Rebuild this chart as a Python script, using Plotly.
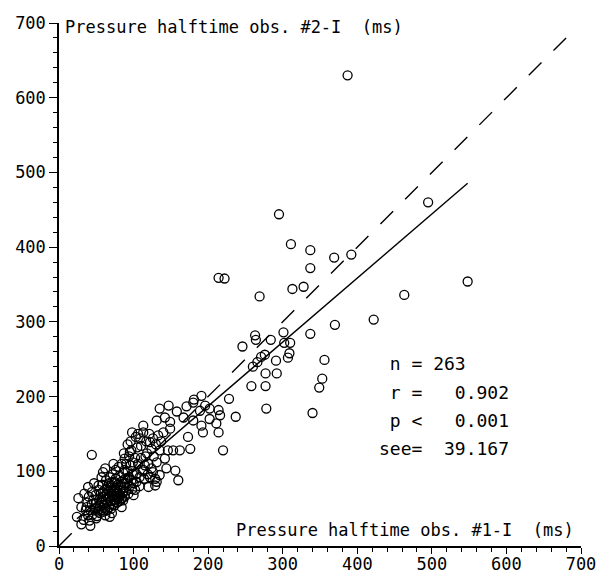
import plotly.graph_objects as go

# ---- data: observer #1 (x) vs observer #2 (y) pressure halftime, ms ----
outer_x = [387, 495, 548, 463, 422, 295, 311, 337, 369, 392, 337, 214, 222, 313, 328, 269,
           370, 337, 301, 263, 264, 284, 302, 310, 246, 309, 307, 276, 271, 266, 260, 291,
           277, 292, 356, 353, 349, 258, 277, 191, 228, 181, 340, 278, 237, 220,
           135, 147, 158, 171, 180, 196, 202, 214, 216, 189, 167, 180, 142, 131, 149, 191,
           211, 202, 113, 106, 173, 193, 214, 176, 162, 153, 156, 160, 59, 95, 26, 24,
           30, 42, 68, 120, 131, 100, 44, 144, 129, 135, 126, 133, 140, 149, 124, 135,
           146, 131, 142, 126, 129, 30, 33, 39, 50, 39, 44, 53, 57, 62, 73, 88,
           97, 109, 113, 122, 104, 102, 84, 86, 71, 62, 122, 124, 113]
outer_y = [630, 460, 354, 336, 303, 444, 404, 396, 386, 390, 372, 359, 358, 344, 347, 334,
           296, 284, 286, 282, 276, 276, 272, 272, 267, 258, 252, 256, 253, 246, 240, 248,
           231, 231, 249, 224, 212, 214, 214, 201, 197, 196, 178, 184, 173, 128,
           184, 188, 180, 187, 192, 188, 184, 182, 175, 181, 172, 168, 172, 168, 166, 161,
           164, 170, 161, 150, 146, 152, 152, 130, 128, 128, 101, 88, 99, 126, 64, 39,
           29, 27, 39, 79, 86, 68, 122, 104, 81, 95, 144, 148, 152, 157, 130, 128,
           128, 112, 117, 99, 90, 52, 35, 41, 37, 79, 72, 81, 92, 104, 110, 117,
           128, 144, 152, 139, 86, 75, 52, 61, 44, 41, 92, 104, 102]

core_x = [48, 50, 52, 54, 55, 56, 57, 58, 59, 60, 61, 62, 63, 64, 65, 66, 67, 68, 69, 70,
          71, 72, 73, 74, 75, 76, 77, 78, 79, 80, 81, 82, 83, 84, 85, 86, 87, 88, 89, 90,
          91, 92, 93, 94, 95, 96, 97, 98, 99, 100, 46, 49, 51, 53, 55, 58, 60, 63, 65, 68,
          70, 72, 74, 76, 78, 80, 82, 84, 86, 88, 66, 69, 71, 73, 75, 77, 79, 81, 83, 85,
          64, 67, 70, 74, 78, 62, 59, 56, 53, 50, 104, 106, 108, 110, 112, 115, 118, 102, 105, 99,
          94, 90, 87, 92, 96, 116, 120, 119, 114, 108, 42, 44, 38, 40, 36, 34, 47, 45, 41, 37,
          110, 117, 103, 98, 121, 127, 130, 137, 92, 88]
core_y = [50, 58, 46, 62, 53, 70, 48, 60, 66, 55, 75, 50, 62, 70, 58, 80, 52, 66, 74, 60,
          85, 56, 68, 78, 62, 90, 70, 58, 82, 66, 94, 74, 62, 86, 70, 98, 78, 66, 90, 74,
          84, 100, 70, 92, 80, 108, 88, 76, 96, 84, 62, 68, 40, 75, 44, 82, 46, 88, 48, 92,
          50, 96, 54, 102, 64, 106, 68, 110, 72, 102, 64, 56, 70, 62, 74, 66, 72, 60, 78, 64,
          76, 84, 78, 86, 76, 68, 72, 58, 54, 50, 96, 110, 92, 118, 100, 108, 124, 118, 132, 112,
          120, 110, 124, 136, 140, 120, 110, 96, 90, 80, 48, 56, 58, 66, 48, 70, 84, 42, 34, 52,
          134, 140, 146, 152, 150, 120, 136, 140, 90, 84]

reg_intercept = 15.8
reg_slope = 0.857
identity_end = 680

stats_lines = ["\u00a0n\u00a0=\u00a0263",
               "\u00a0r\u00a0=\u00a0\u00a0\u00a00.902",
               "\u00a0p\u00a0<\u00a0\u00a0\u00a00.001",
               "see=\u00a0\u00a039.167"]
x_title = "Pressure halftime obs. #1-I\u00a0\u00a0(ms)"
y_title = "Pressure halftime obs. #2-I\u00a0\u00a0(ms)"
tick_vals = [0, 100, 200, 300, 400, 500, 600, 700]

xs = outer_x + core_x
ys = outer_y + core_y

MONO = "DejaVu Sans Mono"

fig = go.Figure()
fig.add_trace(go.Scatter(
    x=xs, y=ys, mode="markers",
    marker=dict(symbol="circle-open", size=9, color="black", line=dict(width=1.3, color="black")),
    showlegend=False, cliponaxis=False))

xmin, xmax = min(xs), max(xs)
fig.add_trace(go.Scatter(
    x=[xmin, xmax], y=[reg_intercept + reg_slope * xmin, reg_intercept + reg_slope * xmax],
    mode="lines", line=dict(color="black", width=1.4), showlegend=False))
fig.add_trace(go.Scatter(
    x=[0, identity_end], y=[0, identity_end], mode="lines",
    line=dict(color="black", width=1.4, dash="18px,17px"), showlegend=False))

axis_common = dict(
    range=[0, 700], autorange=False, showgrid=False, zeroline=False,
    showline=True, linecolor="black", linewidth=1.5,
    ticks="outside", tickwidth=1.3, tickcolor="black",
    tickvals=tick_vals, ticktext=[str(v) for v in tick_vals],
    tickfont=dict(family=MONO, size=17, color="black"),
    ticklabeloverflow="allow", automargin=False,
    minor=dict(dtick=20, tick0=0, ticks="outside", ticklen=4, tickwidth=1, tickcolor="black"),
)
fig.update_xaxes(**axis_common, ticklen=6, ticklabelstandoff=-4)
fig.update_yaxes(**axis_common, ticklen=8)

annotations = [
    dict(x=5, y=700, xref="x", yref="y", text=y_title, showarrow=False,
         xanchor="left", yanchor="middle", yshift=-4,
         font=dict(family=MONO, size=17, color="black")),
    dict(x=693, y=21, xref="x", yref="y", text=x_title, showarrow=False,
         xanchor="right", yanchor="middle",
         font=dict(family=MONO, size=17, color="black")),
]
stats_y = [244, 205, 168, 130]
for line, yy in zip(stats_lines, stats_y):
    annotations.append(dict(x=427, y=yy, xref="x", yref="y", text=line, showarrow=False,
                            xanchor="left", yanchor="middle",
                            font=dict(family=MONO, size=18, color="black")))

fig.update_layout(
    width=596, height=575,
    margin=dict(l=59, r=15, t=23, b=29, autoexpand=False),
    paper_bgcolor="white", plot_bgcolor="white",
    annotations=annotations,
)

fig.write_html("out.html")
